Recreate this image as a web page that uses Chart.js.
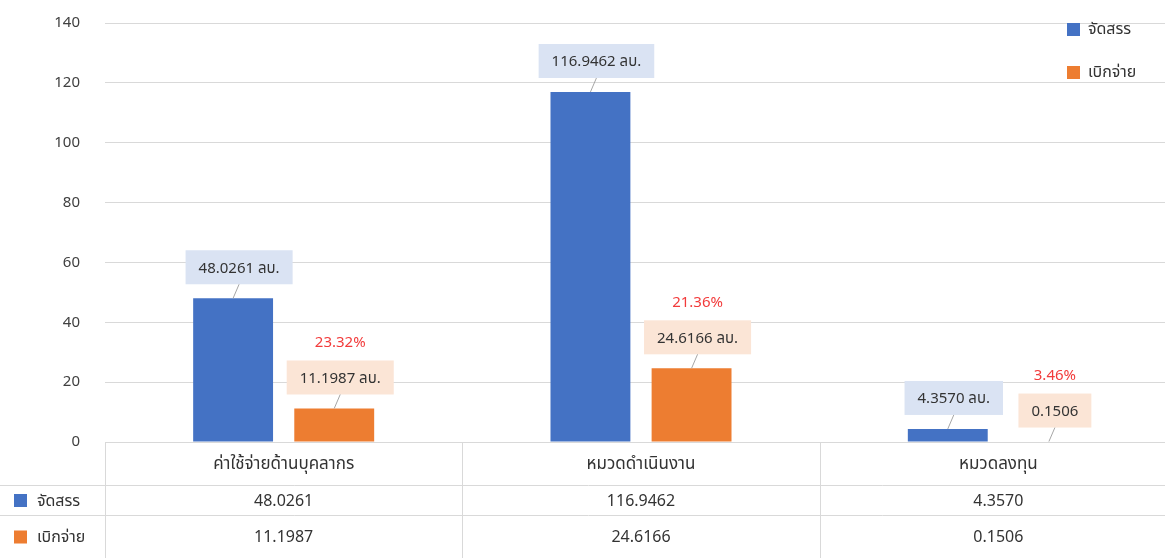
<!DOCTYPE html>
<html lang="th">
<head>
<meta charset="UTF-8">
<title>งบประมาณ จัดสรร / เบิกจ่าย</title>
<script src="https://cdn.jsdelivr.net/npm/chart.js"></script>
<style>
  html, body { margin: 0; padding: 0; background: #fff; overflow: hidden; }
  #wrap { width: 1177px; height: 558px; }
</style>
</head>
<body>
<div id="wrap"><canvas id="chart" width="1177" height="558"></canvas></div>
<script>
const categories = ["ค่าใช้จ่ายด้านบุคลากร", "หมวดดำเนินงาน", "หมวดลงทุน"];
const allocated = [48.0261, 116.9462, 4.3570];
const disbursed = [11.1987, 24.6166, 0.1506];
const allocatedLabels = ["48.0261 ลบ.", "116.9462 ลบ.", "4.3570 ลบ."];
const disbursedLabels = ["11.1987 ลบ.", "24.6166 ลบ.", "0.1506"];
const percentLabels = ["23.32%", "21.36%", "3.46%"];
const tableAllocated = ["48.0261", "116.9462", "4.3570"];
const tableDisbursed = ["11.1987", "24.6166", "0.1506"];
const seriesNames = ["จัดสรร", "เบิกจ่าย"];

const FONT = "'Noto Sans', 'Noto Sans Thai', Tahoma, sans-serif";
const BLUE = "#4472c4";
const ORANGE = "#ed7d31";
const GRID = "#d9d9d9";
const TEXT = "#333333";

// callout boxes above bars + red percentage over the orange ones
const calloutPlugin = {
  id: "callouts",
  afterDatasetsDraw(chart) {
    const ctx = chart.ctx;
    const fills = ["#dae3f3", "#fbe5d6"];
    const texts = [allocatedLabels, disbursedLabels];
    ctx.save();
    ctx.font = "15px " + FONT;
    ctx.textAlign = "center";
    ctx.textBaseline = "middle";
    chart.data.datasets.forEach((ds, di) => {
      const meta = chart.getDatasetMeta(di);
      meta.data.forEach((bar, i) => {
        const txt = texts[di][i];
        const w = ctx.measureText(txt).width + 26;
        const h = 34;
        const cx = bar.x + 6;
        const bottom = bar.y - 14;
        const top = bottom - h;
        ctx.fillStyle = fills[di];
        ctx.fillRect(cx - w / 2, top, w, h);
        // leader line
        ctx.strokeStyle = "#a6a6a6";
        ctx.lineWidth = 1;
        ctx.beginPath();
        ctx.moveTo(bar.x, bar.y);
        ctx.lineTo(cx, bottom);
        ctx.stroke();
        ctx.fillStyle = TEXT;
        ctx.fillText(txt, cx, top + h / 2 + 1);
        if (di === 1) {
          ctx.fillStyle = "#f23b3b";
          ctx.fillText(percentLabels[i], cx, top - 18);
        }
      });
    });
    ctx.restore();
  }
};

// data table under the plot and legend at top right
const tablePlugin = {
  id: "dataTable",
  afterDraw(chart) {
    const ctx = chart.ctx;
    const x = chart.scales.x;
    const area = chart.chartArea;
    const half = (x.getPixelForValue(1) - x.getPixelForValue(0)) / 2;
    const y0 = area.bottom;
    const rows = [y0, y0 + 43, y0 + 73, chart.height];
    const left = area.left;
    const right = chart.width;
    ctx.save();
    ctx.strokeStyle = GRID;
    ctx.lineWidth = 1;
    ctx.beginPath();
    ctx.moveTo(left, rows[0] + 0.5); ctx.lineTo(right, rows[0] + 0.5);
    ctx.moveTo(0, rows[1] + 0.5); ctx.lineTo(right, rows[1] + 0.5);
    ctx.moveTo(0, rows[2] + 0.5); ctx.lineTo(right, rows[2] + 0.5);
    for (let i = 0; i <= categories.length; i++) {
      const bx = Math.round(x.getPixelForValue(i) - half) + 0.5;
      ctx.moveTo(bx, rows[0]); ctx.lineTo(bx, rows[3]);
    }
    ctx.stroke();

    ctx.fillStyle = TEXT;
    ctx.textAlign = "center";
    ctx.textBaseline = "middle";
    categories.forEach((c, i) => {
      const cx = x.getPixelForValue(i);
      ctx.font = "17px " + FONT;
      ctx.fillText(c, cx, (rows[0] + rows[1]) / 2 + 1);
      ctx.font = "16px " + FONT;
      ctx.fillText(tableAllocated[i], cx, (rows[1] + rows[2]) / 2 + 1);
      ctx.fillText(tableDisbursed[i], cx, (rows[2] + rows[3]) / 2 + 1);
    });

    // legend keys in the table
    ctx.textAlign = "left";
    ctx.font = "16px " + FONT;
    [BLUE, ORANGE].forEach((col, k) => {
      const cy = k === 0 ? (rows[1] + rows[2]) / 2 : (rows[2] + rows[3]) / 2;
      ctx.fillStyle = col;
      ctx.fillRect(14, cy - 6, 13, 13);
      ctx.fillStyle = TEXT;
      ctx.fillText(seriesNames[k], 37, cy + 1);
    });

    // legend top right
    [BLUE, ORANGE].forEach((col, k) => {
      const cy = 29 + k * 43;
      ctx.fillStyle = col;
      ctx.fillRect(1067, cy - 6, 13, 13);
      ctx.fillStyle = TEXT;
      ctx.fillText(seriesNames[k], 1088, cy);
    });
    ctx.restore();
  }
};

new Chart(document.getElementById("chart"), {
  type: "bar",
  data: {
    labels: categories,
    datasets: [
      { label: seriesNames[0], data: allocated, backgroundColor: BLUE },
      { label: seriesNames[1], data: disbursed, backgroundColor: ORANGE }
    ]
  },
  options: {
    responsive: false,
    animation: false,
    layout: { padding: { top: 23, bottom: 116, right: 0, left: 0 } },
    datasets: { bar: { categoryPercentage: 0.566, barPercentage: 0.79 } },
    plugins: { legend: { display: false }, tooltip: { enabled: false } },
    scales: {
      x: { display: false },
      y: {
        min: 0,
        max: 140,
        ticks: { stepSize: 20, padding: 25, color: "#404040", font: { size: 15, family: FONT } },
        grid: { color: GRID, drawTicks: false },
        border: { display: false },
        afterFit(scale) {
          scale.width = 105;
          scale.paddingTop = 0;
          scale.paddingBottom = 0;
        }
      }
    }
  },
  plugins: [calloutPlugin, tablePlugin]
});
</script>
</body>
</html>
